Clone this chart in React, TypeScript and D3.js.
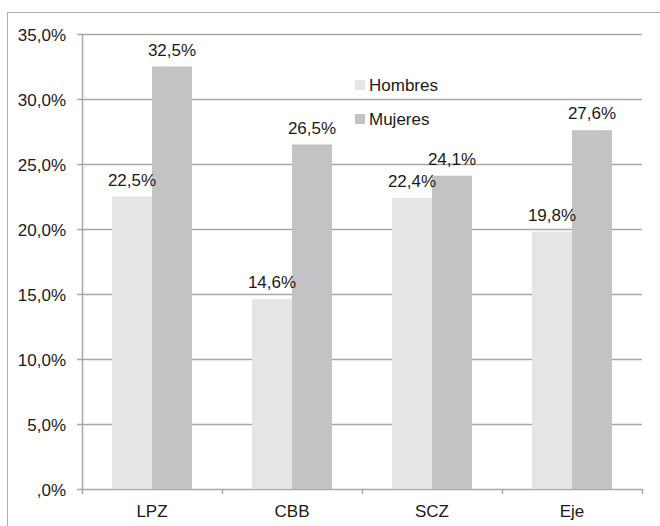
import React, { useEffect, useRef } from 'react'
import * as d3 from 'd3'

// values
const categories = ['LPZ', 'CBB', 'SCZ', 'Eje']
const seriesNames = ['Hombres', 'Mujeres']
const hombres = [22.5, 14.6, 22.4, 19.8]
const mujeres = [32.5, 26.5, 24.1, 27.6]
const yTicks = [0, 5, 10, 15, 20, 25, 30, 35]
const colors = ['#e5e5e7', '#c3c3c5']

const fmt = (v: number) => {
  const s = v.toFixed(1).replace('.', ',')
  return (s.startsWith('0') ? s.slice(1) : s) + '%'
}

export default function App() {
  const ref = useRef<SVGSVGElement>(null)

  useEffect(() => {
    const svg = d3.select(ref.current)
    svg.selectAll('*').remove()

    const margin = { top: 34, right: 18, bottom: 37, left: 82 }
    const width = 660
    const height = 526
    const font = '"Liberation Sans", Arial, sans-serif'
    const grid = '#a8a8a8'

    // outer frame (only left and top are inside the picture)
    svg
      .append('rect')
      .attr('x', 7.5)
      .attr('y', 12.5)
      .attr('width', 700)
      .attr('height', 600)
      .attr('fill', 'white')
      .attr('stroke', '#b0b0b0')

    const x = d3
      .scaleBand()
      .domain(categories)
      .range([margin.left, width - margin.right])
      .paddingInner(60 / 140)
      .paddingOuter(30 / 140)

    const x1 = d3
      .scaleBand()
      .domain(seriesNames)
      .range([0, x.bandwidth()])

    const y = d3
      .scaleLinear()
      .domain([0, 35])
      .range([height - margin.bottom, margin.top])

    // gridlines and y ticks
    const gy = svg.append('g')
    gy.selectAll('line')
      .data(yTicks)
      .enter()
      .append('line')
      .attr('x1', margin.left - 5)
      .attr('x2', width - margin.right)
      .attr('y1', d => Math.round(y(d)) + 0.5)
      .attr('y2', d => Math.round(y(d)) + 0.5)
      .attr('stroke', grid)
      .attr('stroke-width', 1.5)

    gy.selectAll('text')
      .data(yTicks)
      .enter()
      .append('text')
      .attr('x', 66)
      .attr('y', d => y(d))
      .attr('dy', '0.4em')
      .attr('text-anchor', 'end')
      .attr('font-family', font)
      .attr('font-size', 17)
      .attr('fill', '#1a1a1a')
      .text(d => fmt(d))

    const data = categories.map((c, i) => ({ cat: c, values: [hombres[i], mujeres[i]] }))

    const groups = svg
      .append('g')
      .selectAll('g')
      .data(data)
      .enter()
      .append('g')
      .attr('transform', d => 'translate(' + x(d.cat) + ',0)')

    groups
      .selectAll('rect')
      .data(d => d.values.map((v, j) => ({ key: seriesNames[j], v, j })))
      .enter()
      .append('rect')
      .attr('x', d => x1(d.key) as number)
      .attr('width', x1.bandwidth())
      .attr('y', d => y(d.v))
      .attr('height', d => y(0) - y(d.v))
      .attr('fill', d => colors[d.j])

    groups
      .selectAll('text')
      .data(d => d.values.map((v, j) => ({ key: seriesNames[j], v, j })))
      .enter()
      .append('text')
      .attr('x', d => (x1(d.key) as number) + x1.bandwidth() / 2)
      .attr('y', d => y(d.v) - 11)
      .attr('text-anchor', 'middle')
      .attr('font-family', font)
      .attr('font-size', 17)
      .attr('fill', '#1a1a1a')
      .text(d => fmt(d.v))

    // axes lines
    svg
      .append('line')
      .attr('x1', margin.left + 0.5)
      .attr('x2', margin.left + 0.5)
      .attr('y1', y(35))
      .attr('y2', y(0))
      .attr('stroke', grid)
      .attr('stroke-width', 1.5)

    const step = x.step()
    const bounds = d3.range(categories.length + 1).map(i => margin.left + i * step)
    svg
      .append('g')
      .selectAll('line')
      .data(bounds)
      .enter()
      .append('line')
      .attr('x1', d => Math.round(d) + 0.5)
      .attr('x2', d => Math.round(d) + 0.5)
      .attr('y1', y(0))
      .attr('y2', y(0) + 5)
      .attr('stroke', grid)
      .attr('stroke-width', 1.5)

    svg
      .append('g')
      .selectAll('text')
      .data(categories)
      .enter()
      .append('text')
      .attr('x', d => (x(d) as number) + x.bandwidth() / 2)
      .attr('y', y(0) + 28)
      .attr('text-anchor', 'middle')
      .attr('font-family', font)
      .attr('font-size', 17)
      .attr('fill', '#1a1a1a')
      .text(d => d)

    // legend
    const legend = svg
      .append('g')
      .selectAll('g')
      .data(seriesNames)
      .enter()
      .append('g')
      .attr('transform', (d, i) => 'translate(355,' + (80 + i * 34) + ')')
    legend
      .append('rect')
      .attr('width', 10)
      .attr('height', 10)
      .attr('fill', (d, i) => colors[i])
    legend
      .append('text')
      .attr('x', 14)
      .attr('y', 5)
      .attr('dy', '0.38em')
      .attr('font-family', font)
      .attr('font-size', 17)
      .attr('fill', '#1a1a1a')
      .text(d => d)
  }, [])

  return (
    <svg
      ref={ref}
      width={660}
      height={526}
      style={{ position: 'absolute', left: 0, top: 0 }}
    />
  )
}
